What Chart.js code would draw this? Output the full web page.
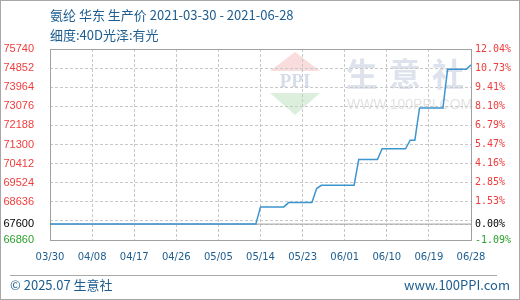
<!DOCTYPE html>
<html>
<head>
<meta charset="utf-8">
<script src="https://cdn.jsdelivr.net/npm/chart.js@4/dist/chart.umd.min.js"></script>
<style>
  html, body { margin: 0; padding: 0; background: #fff; }
  #wrap { position: relative; width: 520px; height: 300px; background: #fff; overflow: hidden; }
  #c { position: absolute; left: 0; top: 0; }
  .txt { position: absolute; color: #1d5d8f; font-family: "Noto Sans CJK SC", "DejaVu Sans", sans-serif; font-size: 13px; white-space: nowrap; line-height: 16px; }
  #frame { position: absolute; left: 0; top: 0; width: 518px; height: 298px; border: 1px solid #a8a8a8; pointer-events: none; }
  #rule { position: absolute; left: 10px; top: 275px; width: 487px; height: 1px; background: #a8a8a8; }
</style>
</head>
<body>
<div id="wrap">
  <canvas id="c" width="520" height="300"></canvas>
  <div class="txt" id="t1" style="left:50px; top:7px;"></div>
  <div class="txt" id="t2" style="left:50px; top:27px;"></div>
  <div id="rule"></div>
  <div class="txt" id="f1" style="left:10px; top:277px;">© 2025.07 生意社</div>
  <div class="txt" id="f2" style="right:10px; top:277px;">www.100PPI.com</div>
  <div id="frame"></div>
</div>
<script>
// 氨纶 华东 生产价 (spandex, East China, ex-factory price), yuan/ton
const productName = '氨纶 华东 生产价';
const specText = '细度:40D光泽:有光';
const startDate = '2021-03-30';
const endDate = '2021-06-28';
const BASE_PRICE = 67600;

// Dates on which the price line turns, and the price on each
const priceDates = ['2021-03-30', '2021-05-13', '2021-05-14', '2021-05-19', '2021-05-20',
  '2021-05-25', '2021-05-26', '2021-05-27', '2021-06-03', '2021-06-04', '2021-06-08',
  '2021-06-09', '2021-06-14', '2021-06-15', '2021-06-16', '2021-06-17', '2021-06-22',
  '2021-06-23', '2021-06-27', '2021-06-28'];
const prices = [67600, 67600, 68400, 68400, 68600, 68600, 69250, 69400, 69400, 70600,
  70600, 71100, 71100, 71500, 71500, 73000, 73000, 74800, 74800, 75000];

// Axis ticks
const xTickLabels = ['03/30', '04/08', '04/17', '04/26', '05/05', '05/14', '05/23',
  '06/01', '06/10', '06/19', '06/28'];
const yTickValues = [75740, 74852, 73964, 73076, 72188, 71300, 70412, 69524, 68636, 67748, 67600, 66860];
const yUnlabelled = [67748];

document.getElementById('t1').textContent = productName + ' ' + startDate + ' - ' + endDate;
document.getElementById('t2').textContent = specText;

const DAY = 86400000;
const t0 = Date.parse(startDate + 'T00:00:00Z');
const dayOf = s => Math.round((Date.parse(s + 'T00:00:00Z') - t0) / DAY);
const lastDay = dayOf(endDate);

const pricePoints = priceDates.map((d, i) => ({ x: dayOf(d), y: prices[i] }));
const basePoints = [{ x: 0, y: BASE_PRICE }, { x: lastDay, y: BASE_PRICE }];

const yMin = Math.min(...yTickValues);
const yMax = Math.max(...yTickValues);

function tickColour(v) {
  if (v === BASE_PRICE) return '#000000';
  if (v < BASE_PRICE) return '#2ca02c';
  return '#f03c3c';
}
function pctLabel(v) {
  if (yUnlabelled.includes(v)) return '';
  return ((v / BASE_PRICE - 1) * 100).toFixed(2) + '%';
}
function setTicks(scale) {
  scale.ticks = yTickValues.map(v => ({ value: v }));
}

// Faint site logo behind the plot
const watermark = {
  id: 'watermark',
  beforeDraw(chart) {
    const ctx = chart.ctx;
    ctx.save();
    // red triangle
    ctx.fillStyle = '#f9dcdc';
    ctx.beginPath();
    ctx.moveTo(295, 52); ctx.lineTo(320, 71); ctx.lineTo(270, 71); ctx.closePath(); ctx.fill();
    // green triangle
    ctx.fillStyle = '#dcefdd';
    ctx.beginPath();
    ctx.moveTo(270, 93); ctx.lineTo(320, 93); ctx.lineTo(295, 115); ctx.closePath(); ctx.fill();
    // PPI letters
    ctx.fillStyle = '#d6dcea';
    ctx.font = 'bold 19px "Liberation Serif", serif';
    ctx.textAlign = 'center';
    ctx.textBaseline = 'middle';
    ctx.fillText('PPI', 295, 82);
    // 生意社
    ctx.fillStyle = '#dde2ed';
    ctx.font = 'bold 32px "Noto Sans CJK SC", sans-serif';
    ctx.fillText('生', 362, 74);
    ctx.fillText('意', 405, 74);
    ctx.fillText('社', 448, 74);
    ctx.fillStyle = '#e3e3e3';
    ctx.font = '14px "Liberation Sans", sans-serif';
    ctx.textAlign = 'left';
    ctx.fillText('WWW.100PPI.COM', 347, 105);
    ctx.restore();
  }
};

// Plot frame drawn above the grid
const plotFrame = {
  id: 'plotFrame',
  beforeDatasetsDraw(chart) {
    const a = chart.chartArea;
    const ctx = chart.ctx;
    ctx.save();
    ctx.strokeStyle = '#a0a0a0';
    ctx.lineWidth = 1;
    ctx.setLineDash([]);
    ctx.strokeRect(Math.round(a.left) + 0.5, Math.round(a.top) + 0.5,
      Math.round(a.right - a.left) - 1 + 1, Math.round(a.bottom - a.top));
    ctx.restore();
  }
};

new Chart(document.getElementById('c'), {
  type: 'line',
  data: {
    datasets: [
      {
        label: '基准',
        data: basePoints,
        borderColor: '#a0a0a0',
        borderWidth: 1,
        pointRadius: 0,
        order: 2
      },
      {
        label: productName,
        data: pricePoints,
        borderColor: '#3d95d0',
        borderWidth: 1.5,
        pointRadius: 0,
        tension: 0,
        order: 1
      }
    ]
  },
  options: {
    responsive: false,
    animation: false,
    devicePixelRatio: 1,
    layout: { padding: { top: 49, left: 0, right: 0, bottom: 0 } },
    plugins: { legend: { display: false }, tooltip: { enabled: false } },
    scales: {
      x: {
        type: 'linear',
        min: 0,
        max: lastDay,
        afterFit(s) { s.height = 60; },
        border: { display: false, dash: [3, 2] },
        grid: { color: '#c8c8c8', lineWidth: 1, drawTicks: false },
        ticks: {
          stepSize: 9,
          autoSkip: false,
          maxRotation: 0,
          padding: 11,
          color: '#1d5d8f',
          font: { family: '"DejaVu Sans", sans-serif', size: 10 },
          callback: (v, i) => xTickLabels[i]
        }
      },
      y: {
        position: 'left',
        min: yMin,
        max: yMax,
        afterBuildTicks: setTicks,
        afterFit(s) { s.width = 50; },
        border: { display: false, dash: [3, 2] },
        grid: { color: '#c8c8c8', lineWidth: 1, drawTicks: false },
        ticks: {
          autoSkip: false,
          padding: 16,
          color: c => tickColour(c.tick.value),
          font: { family: '"Liberation Sans", sans-serif', size: 11 },
          callback: v => yUnlabelled.includes(v) ? '' : String(v)
        }
      },
      y2: {
        position: 'right',
        min: yMin,
        max: yMax,
        afterBuildTicks: setTicks,
        afterFit(s) { s.width = 49; },
        border: { display: false },
        grid: { drawOnChartArea: false, drawTicks: false },
        ticks: {
          autoSkip: false,
          padding: 4,
          color: c => tickColour(c.tick.value),
          font: { family: '"DejaVu Sans Mono", monospace', size: 10 },
          callback: pctLabel
        }
      }
    }
  },
  plugins: [watermark, plotFrame]
});
</script>
</body>
</html>
